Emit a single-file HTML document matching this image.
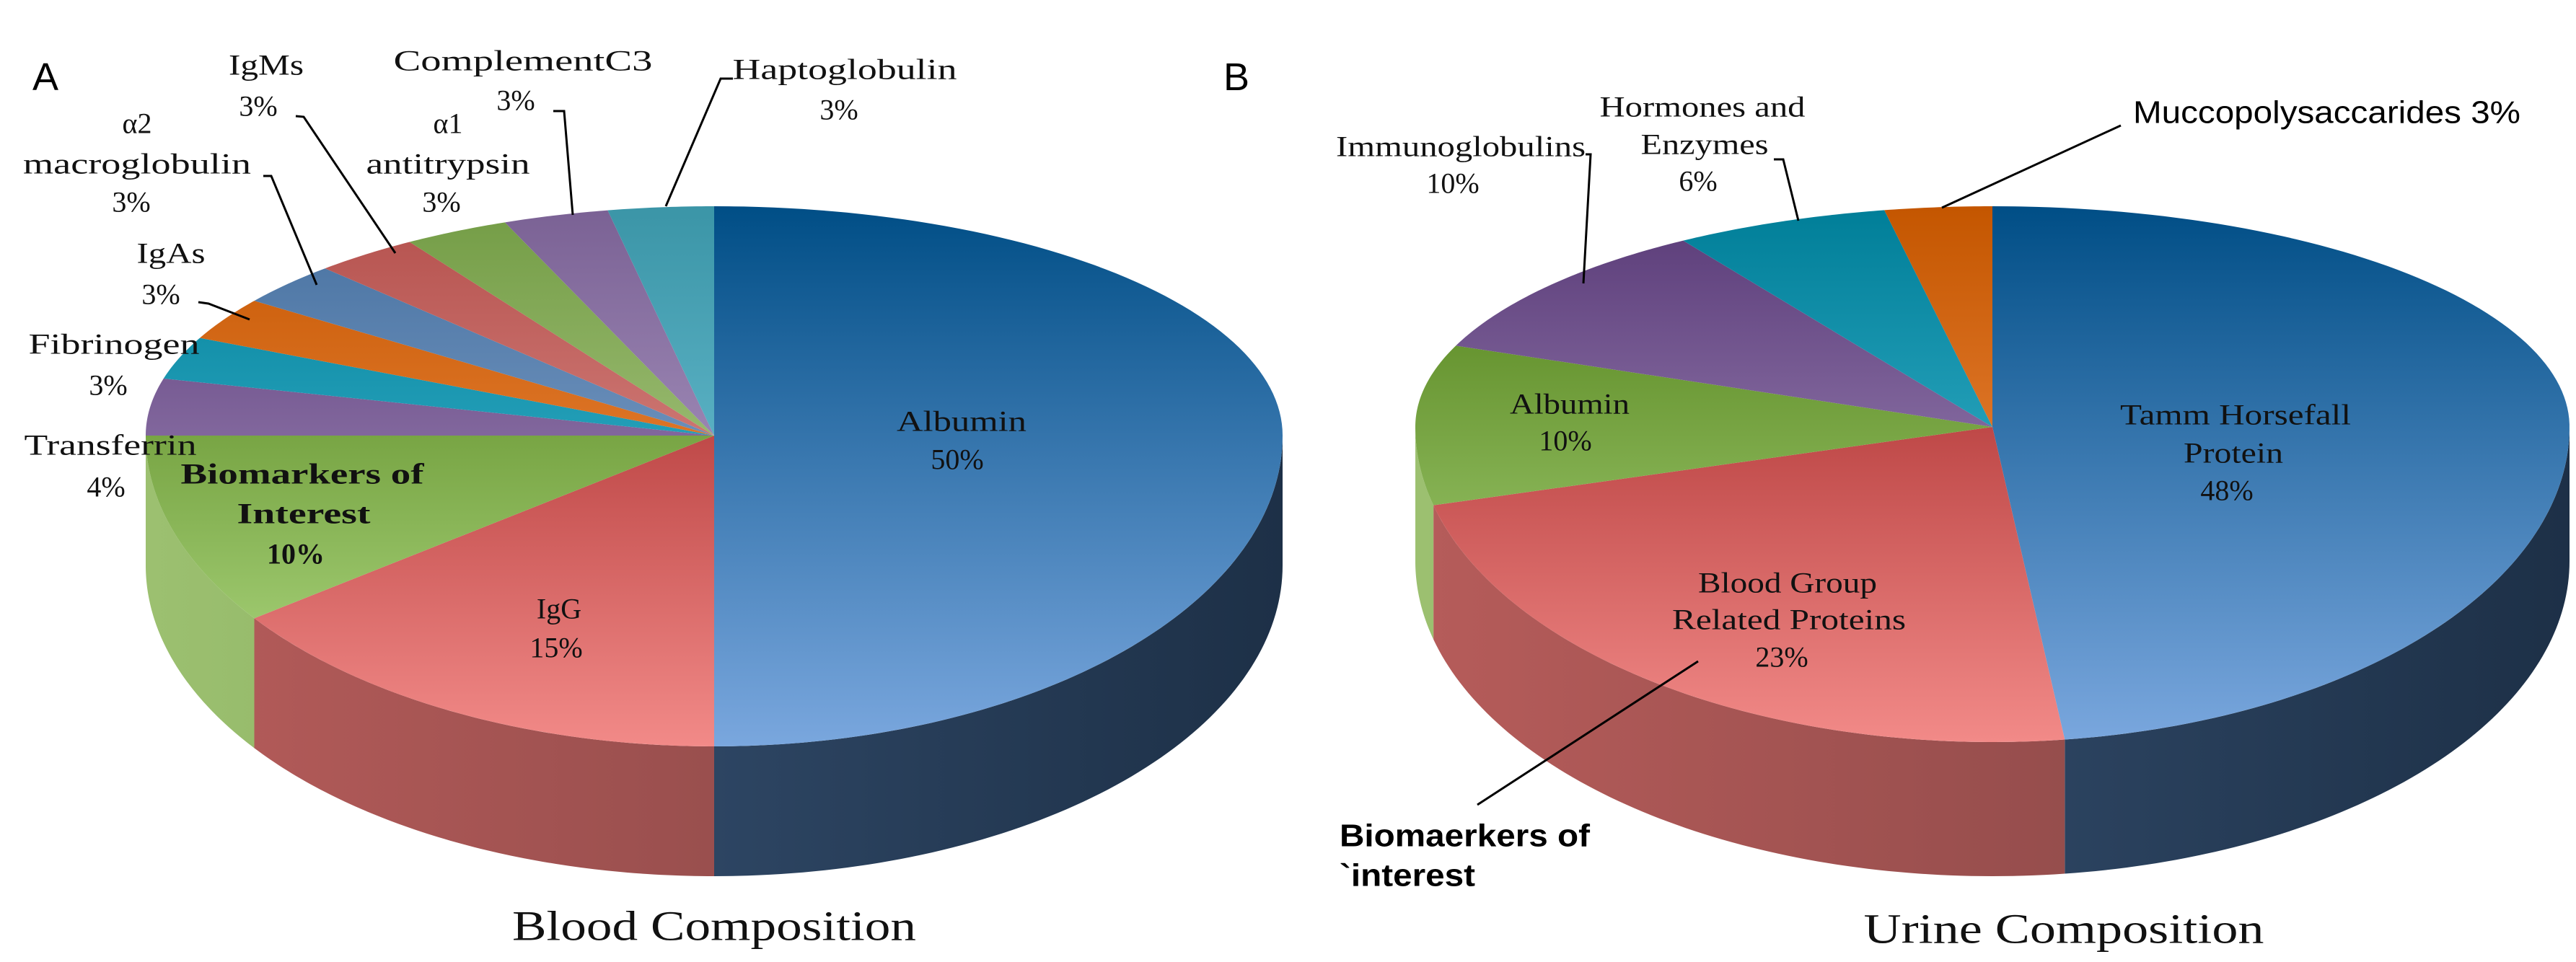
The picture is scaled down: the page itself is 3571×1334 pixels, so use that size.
<!DOCTYPE html>
<html><head><meta charset="utf-8"><style>
html,body{margin:0;padding:0;background:#fff;}
svg{display:block;}
.lbl{font-family:"Liberation Serif",serif;font-size:40px;fill:#111;}
.sans{font-family:"Liberation Sans",sans-serif;}
</style></head><body>
<svg id="chart" width="3571" height="1334" viewBox="0 0 3571 1334" xmlns="http://www.w3.org/2000/svg">
<defs id="defs"></defs>
<g id="pies"></g>
<g id="labels">
<text x="63" y="107" class="sans" font-size="54" dominant-baseline="central" text-anchor="middle">A</text>
<text x="1714" y="107" class="sans" font-size="54" dominant-baseline="central" text-anchor="middle">B</text>

<g dominant-baseline="central" text-anchor="middle" class="lbl">
<text x="369" y="90" textLength="104" lengthAdjust="spacingAndGlyphs">IgMs</text>
<text x="358" y="147">3%</text>
<text x="725" y="84" textLength="359" lengthAdjust="spacingAndGlyphs">ComplementC3</text>
<text x="715" y="139">3%</text>
<text x="1171" y="96" textLength="311" lengthAdjust="spacingAndGlyphs">Haptoglobulin</text>
<text x="1163" y="152">3%</text>
<text x="190" y="171">α2</text>
<text x="190" y="227" textLength="316" lengthAdjust="spacingAndGlyphs">macroglobulin</text>
<text x="182" y="280">3%</text>
<text x="621" y="171">α1</text>
<text x="621" y="227" textLength="227" lengthAdjust="spacingAndGlyphs">antitrypsin</text>
<text x="612" y="280">3%</text>
<text x="237" y="351" textLength="95" lengthAdjust="spacingAndGlyphs">IgAs</text>
<text x="223" y="408">3%</text>
<text x="158" y="477" textLength="237" lengthAdjust="spacingAndGlyphs">Fibrinogen</text>
<text x="150" y="534">3%</text>
<text x="153" y="617" textLength="239" lengthAdjust="spacingAndGlyphs">Transferrin</text>
<text x="147" y="675">4%</text>
<text x="419" y="657" font-weight="bold" textLength="337" lengthAdjust="spacingAndGlyphs">Biomarkers of</text>
<text x="421" y="712" font-weight="bold" textLength="185" lengthAdjust="spacingAndGlyphs">Interest</text>
<text x="410" y="768" font-weight="bold">10%</text>
<text x="1333" y="584" textLength="180" lengthAdjust="spacingAndGlyphs">Albumin</text>
<text x="1327" y="637">50%</text>
<text x="775" y="844">IgG</text>
<text x="771" y="898">15%</text>
<text x="990" y="1284" font-size="58" textLength="560" lengthAdjust="spacingAndGlyphs">Blood Composition</text>
</g>

<g dominant-baseline="central" text-anchor="middle" class="lbl">
<text x="2360" y="148" textLength="285" lengthAdjust="spacingAndGlyphs">Hormones and</text>
<text x="2363" y="200" textLength="177" lengthAdjust="spacingAndGlyphs">Enzymes</text>
<text x="2354" y="251">6%</text>
<text x="2025" y="203" textLength="346" lengthAdjust="spacingAndGlyphs">Immunoglobulins</text>
<text x="2014" y="254">10%</text>
<text x="2176" y="560" textLength="166" lengthAdjust="spacingAndGlyphs">Albumin</text>
<text x="2170" y="611">10%</text>
<text x="3099" y="575" textLength="320" lengthAdjust="spacingAndGlyphs">Tamm Horsefall</text>
<text x="3096" y="628" textLength="138" lengthAdjust="spacingAndGlyphs">Protein</text>
<text x="3087" y="680">48%</text>
<text x="2478" y="808" textLength="248" lengthAdjust="spacingAndGlyphs">Blood Group</text>
<text x="2480" y="859" textLength="324" lengthAdjust="spacingAndGlyphs">Related Proteins</text>
<text x="2470" y="911">23%</text>
<text x="2861" y="1288" font-size="58" textLength="555" lengthAdjust="spacingAndGlyphs">Urine Composition</text>
</g>
<text x="2957" y="156" class="sans" font-size="44" dominant-baseline="central" textLength="537" lengthAdjust="spacingAndGlyphs">Muccopolysaccarides 3%</text>
<text x="1857" y="1159" class="sans" font-size="44" font-weight="bold" dominant-baseline="central" textLength="347" lengthAdjust="spacingAndGlyphs">Biomaerkers of</text>
<text x="1857" y="1214" class="sans" font-size="44" font-weight="bold" dominant-baseline="central" textLength="188" lengthAdjust="spacingAndGlyphs">`interest</text>
</g>
<g fill="none" stroke="#000" stroke-width="3">
<polyline points="410,161 421,162 548,351"/>
<polyline points="767,154 782,154 794,298"/>
<polyline points="1016,109 999,109 923,286"/>
<polyline points="365,244 376,244 439,395"/>
<polyline points="275,419 289,421 346,443"/>
<polyline points="2198,214 2205,214 2195,393"/>
<polyline points="2459,221 2472,221 2493,306"/>
<polyline points="2940,174 2692,288"/>
<polyline points="2354,917 2048,1116"/>
</g>
</svg>
<script>
// Blood composition data
const bloodCategories = ["Albumin","IgG","Biomarkers of Interest","Transferrin","Fibrinogen","IgAs","α2 macroglobulin","IgMs","α1 antitrypsin","Complement C3","Haptoglobulin"];
const bloodValues = [50,15,10,4,3,3,3,3,3,3,3];
// Urine composition data
const urineCategories = ["Tamm Horsefall Protein","Blood Group Related Proteins","Albumin","Immunoglobulins","Hormones and Enzymes","Muccopolysaccarides"];
const urineValues = [48,23,10,10,6,3];

const bloodColors = [["#004e86","#7aa7de","#3d5a7e","#1d3047"],["#9a1a1a","#f28a88","#b65c5a","#7d4242"],["#4c7b12","#b4de88","#9cc070","#6f9a4a"],["#593a77","#b8a3d0","#6e5590","#4a3565"],["#007e98","#52cae2","#2e8ea2","#1d6676"],["#c45600","#ff9d5a","#d87a3c","#a4551c"],["#46709f","#99b7de","#5a7aa0","#3d5878"],["#b4504c","#eda7a4","#b46a68","#8a4c4a"],["#739c45","#c6dea4","#8aa868","#647d48"],["#7a6194","#c4b4da","#8a78a4","#65557c"],["#3b95a7","#80d3e7","#5aa8b8","#3f7e8c"]];
const urineColors = [bloodColors[0],bloodColors[1],bloodColors[2],bloodColors[3],bloodColors[4],bloodColors[5]];

const NS = "http://www.w3.org/2000/svg";
const defs = document.getElementById("defs");
const pies = document.getElementById("pies");

function grad(id, c1, c2, vertical, x1, y1, x2, y2) {
  const g = document.createElementNS(NS, "linearGradient");
  g.setAttribute("id", id);
  g.setAttribute("gradientUnits", "userSpaceOnUse");
  g.setAttribute("x1", x1); g.setAttribute("y1", y1);
  g.setAttribute("x2", x2); g.setAttribute("y2", y2);
  [[0, c1], [1, c2]].forEach(([o, c]) => {
    const s = document.createElementNS(NS, "stop");
    s.setAttribute("offset", o); s.setAttribute("stop-color", c);
    g.appendChild(s);
  });
  defs.appendChild(g);
}

function drawPie(prefix, cats, vals, colors, cx, cy, rx, ryTop, ryBot, depth) {
  const total = vals.reduce((a, b) => a + b, 0);
  const pt = (deg) => {
    const t = deg * Math.PI / 180, c = Math.cos(t);
    return [cx + rx * Math.sin(t), cy - c * (c > 0 ? ryTop : ryBot)];
  };
  const g = document.createElementNS(NS, "g");
  
  
  pies.appendChild(g);
  let acc = 0;
  const slices = vals.map((v, i) => {
    const a0 = acc / total * 360; acc += v;
    return [a0, acc / total * 360, i];
  });
  slices.forEach(([a0, a1, i]) => {
    const s0 = Math.max(a0, 90), s1 = Math.min(a1, 270);
    if (s1 <= s0) return;
    const gid = prefix + "-side-" + i;
    grad(gid, colors[i][2], colors[i][3], false, cx - rx, 0, cx + rx, 0);
    const top = [], bot = [];
    for (let a = s0; a <= s1 + 0.001; a += Math.max(0.5, (s1 - s0) / 80)) {
      const p = pt(Math.min(a, s1)); top.push(p); bot.push([p[0], p[1] + depth]);
    }
    const pts = top.concat(bot.reverse()).map(p => p.join(",")).join(" ");
    const poly = document.createElementNS(NS, "polygon");
    poly.setAttribute("points", pts);
    poly.setAttribute("fill", "url(#" + gid + ")");
    
    
    g.appendChild(poly);
  });
  slices.forEach(([a0, a1, i]) => {
    const gid = prefix + "-top-" + i;
    grad(gid, colors[i][0], colors[i][1], true, 0, cy - ryTop, 0, cy + ryBot);
    const pts = [[cx, cy]];
    const step = Math.max(0.5, (a1 - a0) / 120);
    for (let a = a0; a < a1; a += step) pts.push(pt(a));
    pts.push(pt(a1));
    const poly = document.createElementNS(NS, "polygon");
    poly.setAttribute("points", pts.map(p => p.join(",")).join(" "));
    poly.setAttribute("fill", "url(#" + gid + ")");
    
    
    g.appendChild(poly);
  });
}

drawPie("blood", bloodCategories, bloodValues, bloodColors, 990, 604, 788, 318, 431, 180);
drawPie("urine", urineCategories, urineValues, urineColors, 2762, 592, 800, 306, 437, 186);
</script>
</body></html>
